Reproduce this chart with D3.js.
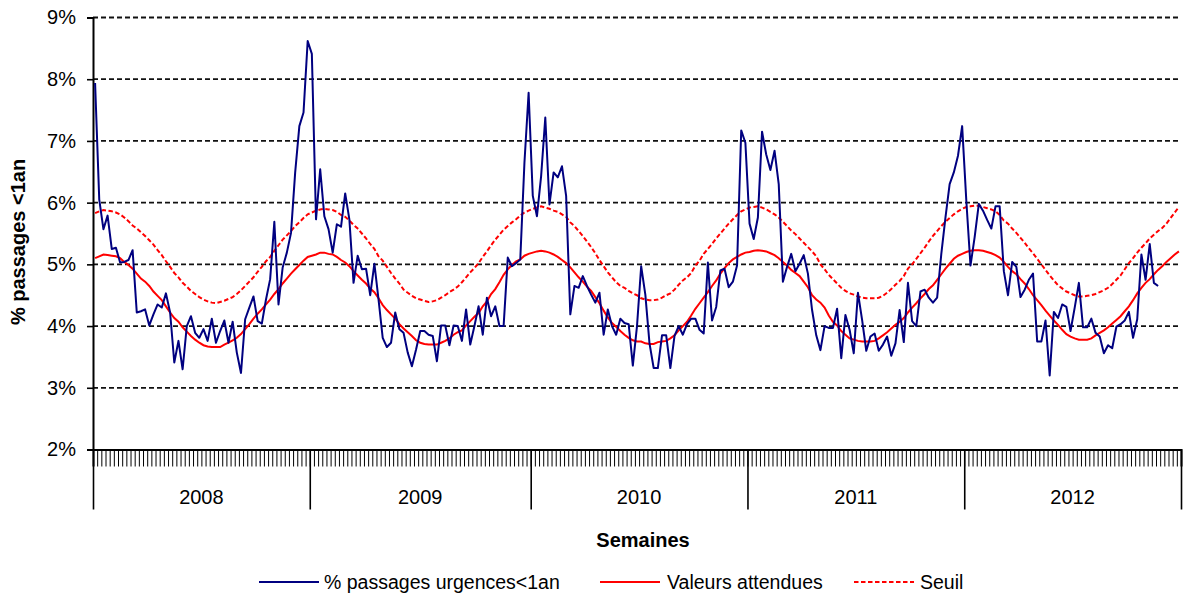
<!DOCTYPE html>
<html>
<head>
<meta charset="utf-8">
<script src="https://cdn.jsdelivr.net/npm/d3@7"></script>
<style>
  html, body { margin: 0; padding: 0; background: #fff; }
  svg { display: block; font-family: "Liberation Sans", Arial, sans-serif; }
</style>
</head>
<body>
<svg id="chart" width="1183" height="596"></svg>
<script>
// ---------- data ----------
const years = ["2008", "2009", "2010", "2011", "2012"];
const weeksPerYear = [52, 53, 52, 52, 52];
const yTicks = [2, 3, 4, 5, 6, 7, 8, 9];
const seriesNames = ["% passages urgences<1an", "Valeurs attendues", "Seuil"];

const passages = [
  7.94, 6.05, 5.57, 5.79, 5.25, 5.27, 5.03, 5.04, 5.07, 5.23, 4.22, 4.24, 4.27, 4.01, 4.19, 4.35, 4.30, 4.53, 4.22, 3.41, 3.76, 3.30,
  4.00, 4.16, 3.89, 3.81, 3.95, 3.76, 4.12, 3.73, 3.92, 4.09, 3.73, 4.07, 3.57, 3.24, 4.11, 4.30, 4.48, 4.08, 4.04, 4.43, 4.76, 5.69,
  4.35, 4.95, 5.19, 5.51, 6.49, 7.24, 7.46, 8.62, 8.41, 5.73, 6.54, 5.78, 5.57, 5.19, 5.65, 5.61, 6.15, 5.73, 4.70, 5.14, 4.92, 4.93,
  4.50, 5.01, 4.43, 3.81, 3.66, 3.73, 4.22, 3.95, 3.89, 3.57, 3.35, 3.62, 3.92, 3.92, 3.86, 3.84, 3.43, 4.01, 4.01, 3.69, 4.01, 4.00,
  3.76, 4.27, 3.70, 4.00, 4.32, 3.86, 4.46, 4.16, 4.32, 4.00, 4.00, 5.11, 4.97, 5.02, 5.08, 6.65, 7.78, 6.11, 5.78, 6.43, 7.38, 5.97,
  6.49, 6.41, 6.59, 6.11, 4.19, 4.65, 4.62, 4.81, 4.65, 4.51, 4.38, 4.54, 3.86, 4.27, 4.00, 3.86, 4.12, 4.05, 4.03, 3.36, 4.00,
  4.97, 4.51, 3.72, 3.32, 3.32, 3.85, 3.85, 3.32, 3.84, 4.00, 3.86, 4.03, 4.12, 4.12, 3.94, 3.88, 5.03, 4.09, 4.31, 4.90, 4.93, 4.63,
  4.72, 4.98, 7.17, 6.97, 5.66, 5.41, 5.76, 7.15, 6.78, 6.53, 6.84, 6.30, 4.72, 4.96, 5.17, 4.89, 5.01, 5.15, 4.85, 4.26, 3.85,
  3.61, 4.00, 3.97, 3.97, 4.28, 3.48, 4.18, 3.94, 3.56, 4.54, 4.10, 3.60, 3.83, 3.88, 3.60, 3.70, 3.83, 3.52, 3.72, 4.26, 3.74, 4.70,
  4.08, 4.00, 4.56, 4.59, 4.46, 4.38, 4.46, 5.17, 5.76, 6.30, 6.49, 6.76, 7.24, 6.03, 4.98, 5.44, 5.98, 5.87, 5.72, 5.58, 5.94, 5.94,
  4.89, 4.50, 5.04, 4.96, 4.47, 4.59, 4.75, 4.85, 3.75, 3.75, 4.09, 3.20, 4.23, 4.13, 4.35, 4.31, 3.92, 4.30, 4.70, 3.98, 3.98, 4.12,
  3.89, 3.83, 3.56, 3.69, 3.64, 3.99, 4.03, 4.09, 4.23, 3.81, 4.11, 5.16, 4.75, 5.33, 4.70, 4.65
];

const attendues = [
  5.10, 5.13, 5.16, 5.15, 5.14, 5.13, 5.10, 5.04, 4.99, 4.93, 4.85, 4.77, 4.72, 4.65, 4.56, 4.49, 4.42, 4.32, 4.22, 4.13, 4.07, 3.98,
  3.91, 3.84, 3.78, 3.73, 3.69, 3.67, 3.66, 3.66, 3.66, 3.70, 3.73, 3.77, 3.81, 3.87, 3.95, 4.03, 4.12, 4.20, 4.27, 4.35, 4.43, 4.52,
  4.60, 4.69, 4.77, 4.85, 4.92, 4.99, 5.06, 5.12, 5.14, 5.16, 5.19, 5.19, 5.17, 5.16, 5.12, 5.07, 5.03, 4.97, 4.89, 4.82, 4.75, 4.69,
  4.61, 4.55, 4.45, 4.34, 4.26, 4.19, 4.12, 4.03, 3.96, 3.90, 3.84, 3.77, 3.73, 3.71, 3.70, 3.70, 3.70, 3.73, 3.76, 3.80, 3.86, 3.90,
  3.93, 4.01, 4.08, 4.15, 4.21, 4.32, 4.40, 4.52, 4.60, 4.71, 4.83, 4.92, 4.99, 5.05, 5.08, 5.14, 5.17, 5.19, 5.21, 5.22, 5.21, 5.19,
  5.16, 5.12, 5.07, 5.02, 4.95, 4.87, 4.79, 4.72, 4.64, 4.57, 4.47, 4.37, 4.25, 4.14, 4.05, 3.99, 3.92, 3.86, 3.81, 3.77, 3.75,
  3.75, 3.72, 3.71, 3.71, 3.74, 3.75, 3.76, 3.80, 3.85, 3.93, 4.00, 4.07, 4.17, 4.28, 4.37, 4.46, 4.55, 4.65, 4.74, 4.85, 4.94, 5.02,
  5.08, 5.12, 5.16, 5.19, 5.20, 5.22, 5.23, 5.22, 5.21, 5.18, 5.15, 5.10, 5.04, 4.98, 4.91, 4.86, 4.81, 4.72, 4.63, 4.50, 4.43,
  4.38, 4.30, 4.17, 4.07, 4.01, 3.92, 3.86, 3.80, 3.78, 3.76, 3.75, 3.75, 3.75, 3.76, 3.80, 3.85, 3.90, 3.96, 4.02, 4.07, 4.13, 4.22,
  4.30, 4.37, 4.45, 4.52, 4.60, 4.66, 4.75, 4.84, 4.93, 5.01, 5.09, 5.14, 5.17, 5.20, 5.22, 5.23, 5.23, 5.22, 5.20, 5.18, 5.15, 5.11,
  5.04, 4.96, 4.89, 4.84, 4.76, 4.69, 4.60, 4.50, 4.42, 4.34, 4.25, 4.17, 4.09, 4.02, 3.94, 3.87, 3.83, 3.80, 3.78, 3.78, 3.78, 3.80,
  3.85, 3.89, 3.93, 3.98, 4.04, 4.10, 4.16, 4.24, 4.32, 4.42, 4.53, 4.62, 4.70, 4.76, 4.84, 4.91, 4.97, 5.04, 5.10, 5.16, 5.21
];

const seuil = [
  5.83, 5.86, 5.88, 5.87, 5.86, 5.84, 5.81, 5.76, 5.70, 5.63, 5.58, 5.52, 5.46, 5.39, 5.32, 5.23, 5.15, 5.05, 4.96, 4.86, 4.79, 4.70,
  4.64, 4.57, 4.52, 4.47, 4.43, 4.40, 4.38, 4.37, 4.39, 4.41, 4.44, 4.47, 4.52, 4.58, 4.65, 4.72, 4.79, 4.88, 4.96, 5.05, 5.12, 5.22,
  5.31, 5.40, 5.47, 5.54, 5.62, 5.68, 5.75, 5.81, 5.84, 5.87, 5.89, 5.90, 5.89, 5.88, 5.85, 5.80, 5.77, 5.71, 5.64, 5.58, 5.50, 5.42,
  5.33, 5.25, 5.13, 5.06, 4.96, 4.86, 4.77, 4.69, 4.59, 4.54, 4.49, 4.45, 4.43, 4.41, 4.39, 4.40, 4.42, 4.46, 4.50, 4.55, 4.59, 4.64,
  4.71, 4.79, 4.87, 4.94, 5.02, 5.12, 5.21, 5.31, 5.40, 5.48, 5.56, 5.62, 5.68, 5.73, 5.79, 5.84, 5.87, 5.90, 5.92, 5.94, 5.92, 5.90,
  5.87, 5.85, 5.81, 5.77, 5.68, 5.62, 5.54, 5.46, 5.37, 5.28, 5.18, 5.07, 4.97, 4.87, 4.79, 4.71, 4.65, 4.62, 4.57, 4.53, 4.50,
  4.45, 4.43, 4.42, 4.42, 4.43, 4.46, 4.50, 4.53, 4.59, 4.67, 4.74, 4.79, 4.86, 4.98, 5.06, 5.17, 5.25, 5.33, 5.42, 5.50, 5.58, 5.66,
  5.73, 5.80, 5.86, 5.89, 5.92, 5.93, 5.94, 5.92, 5.89, 5.85, 5.81, 5.76, 5.69, 5.62, 5.55, 5.49, 5.42, 5.35, 5.28, 5.21, 5.13,
  5.00, 4.92, 4.83, 4.76, 4.69, 4.62, 4.57, 4.53, 4.51, 4.48, 4.46, 4.45, 4.45, 4.45, 4.46, 4.49, 4.54, 4.60, 4.67, 4.73, 4.81, 4.93,
  5.00, 5.09, 5.18, 5.27, 5.37, 5.46, 5.54, 5.62, 5.69, 5.75, 5.81, 5.86, 5.90, 5.93, 5.94, 5.95, 5.95, 5.93, 5.91, 5.89, 5.86, 5.80,
  5.71, 5.66, 5.58, 5.51, 5.43, 5.35, 5.26, 5.18, 5.09, 5.00, 4.91, 4.82, 4.74, 4.66, 4.61, 4.56, 4.53, 4.50, 4.48, 4.48, 4.49, 4.50,
  4.52, 4.55, 4.58, 4.62, 4.68, 4.75, 4.82, 4.92, 5.02, 5.10, 5.19, 5.27, 5.34, 5.42, 5.48, 5.54, 5.59, 5.66, 5.75, 5.84, 5.93
];

// ---------- layout ----------
const svg = d3.select("#chart");
const plotLeft = 93, plotRight = 1181, plotTop = 17.5, plotBottom = 449.5;
const totalWeeks = d3.sum(weeksPerYear);
const weekIdx = d3.range(totalWeeks);

const x = d3.scaleBand().domain(weekIdx).range([plotLeft, plotRight]).padding(0);
const xb = d3.scaleLinear().domain([0, totalWeeks]).range([plotLeft, plotRight]); // week boundaries
const y = d3.scaleLinear().domain([2, 9]).range([plotBottom, plotTop]);

const font = '"Liberation Sans", Arial, sans-serif';

// gridlines
svg.append("g")
  .selectAll("line")
  .data(yTicks.filter(d => d > 2))
  .join("line")
  .attr("x1", plotLeft).attr("x2", plotRight)
  .attr("y1", d => y(d)).attr("y2", d => y(d))
  .attr("stroke", "#111").attr("stroke-width", 1.8)
  .attr("stroke-dasharray", "5,3");

// y axis
const yAxis = svg.append("g")
  .attr("transform", `translate(${plotLeft},0)`)
  .call(d3.axisLeft(y).tickValues(yTicks).tickFormat(d => d + "%").tickSize(6).tickPadding(11));
yAxis.select(".domain").attr("stroke", "#000").attr("stroke-width", 2);
yAxis.selectAll(".tick line").attr("stroke", "#000").attr("stroke-width", 1.6);
yAxis.selectAll("text").attr("font-size", 20).attr("font-family", font).attr("fill", "#000");

// x axis: week ticks
const cum = [0];
weeksPerYear.forEach(w => cum.push(cum[cum.length - 1] + w));

const xAxis = svg.append("g")
  .attr("transform", `translate(0,${plotBottom})`)
  .call(d3.axisBottom(xb).tickValues(d3.range(0, totalWeeks + 1)).tickSize(17).tickFormat(""));
xAxis.select(".domain").attr("stroke", "#000").attr("stroke-width", 2);
xAxis.selectAll(".tick line").attr("stroke", "#000").attr("stroke-width", 1);

// year separators
const yearAxis = svg.append("g")
  .attr("transform", `translate(0,${plotBottom})`)
  .call(d3.axisBottom(xb).tickValues(cum).tickSize(60).tickFormat(""));
yearAxis.select(".domain").remove();
yearAxis.selectAll(".tick line").attr("stroke", "#000").attr("stroke-width", 1.6);

// year labels
svg.append("g")
  .selectAll("text")
  .data(years)
  .join("text")
  .attr("x", (d, i) => xb((cum[i] + cum[i + 1]) / 2))
  .attr("y", 504)
  .attr("text-anchor", "middle")
  .attr("font-size", 20)
  .attr("font-family", font)
  .text(d => d);

// axis titles
svg.append("text")
  .attr("x", 643).attr("y", 547)
  .attr("text-anchor", "middle")
  .attr("font-size", 20).attr("font-weight", "bold")
  .attr("font-family", font)
  .text("Semaines");

svg.append("text")
  .attr("transform", "translate(25,242) rotate(-90)")
  .attr("text-anchor", "middle")
  .attr("font-size", 20).attr("font-weight", "bold")
  .attr("font-family", font)
  .text("% passages <1an");

// lines
const lineGen = d3.line()
  .x((d, i) => x(i) + x.bandwidth() / 2)
  .y(d => y(d));

svg.append("path").datum(seuil)
  .attr("d", lineGen)
  .attr("fill", "none").attr("stroke", "#ff0000").attr("stroke-width", 2)
  .attr("stroke-dasharray", "4.5,2.5");

svg.append("path").datum(attendues)
  .attr("d", lineGen)
  .attr("fill", "none").attr("stroke", "#ff0000").attr("stroke-width", 2);

svg.append("path").datum(passages)
  .attr("d", lineGen)
  .attr("fill", "none").attr("stroke", "#000080").attr("stroke-width", 2)
  .attr("stroke-linejoin", "round");

// legend
const legendItems = [
  { name: seriesNames[0], color: "#000080", dash: null, x0: 259, tx: 324 },
  { name: seriesNames[1], color: "#ff0000", dash: null, x0: 600, tx: 667 },
  { name: seriesNames[2], color: "#ff0000", dash: "4.5,2.5", x0: 854, tx: 920 }
];
const lg = svg.append("g");
legendItems.forEach(it => {
  lg.append("line")
    .attr("x1", it.x0).attr("x2", it.x0 + 60)
    .attr("y1", 582).attr("y2", 582)
    .attr("stroke", it.color).attr("stroke-width", 2)
    .attr("stroke-dasharray", it.dash);
  lg.append("text")
    .attr("x", it.tx).attr("y", 589)
    .attr("font-size", 19.5)
    .attr("font-family", font)
    .text(it.name);
});
</script>
</body>
</html>
